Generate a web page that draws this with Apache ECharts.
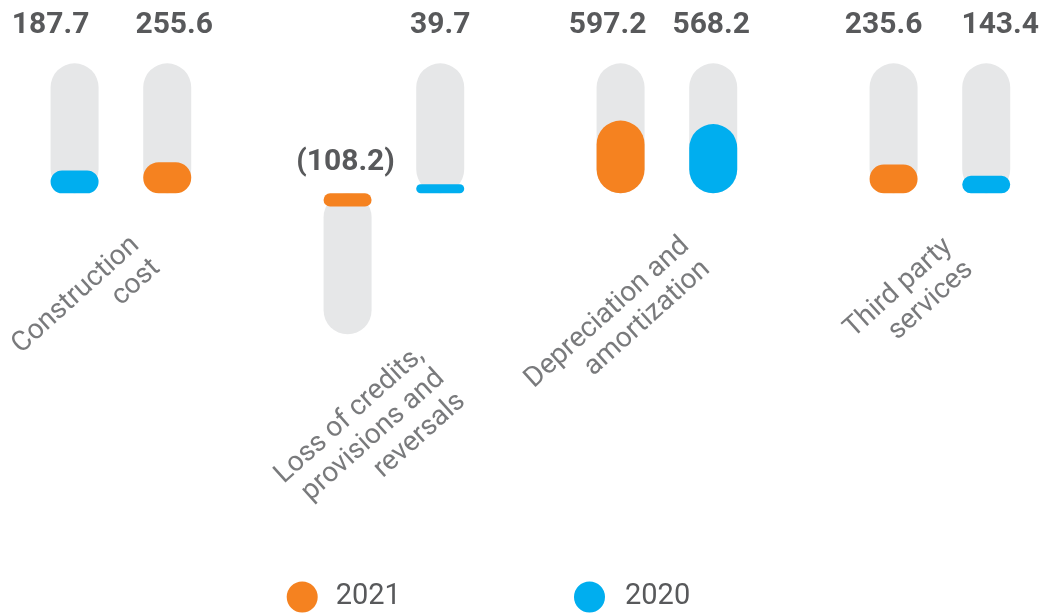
<!DOCTYPE html>
<html>
<head>
<meta charset="utf-8">
<title>Costs by nature</title>
<script src="https://cdn.jsdelivr.net/npm/echarts@6/dist/echarts.min.js"></script>
<style>
  html, body { margin: 0; padding: 0; background: #ffffff; }
  #chart { width: 1042px; height: 614px; }
</style>
</head>
<body>
<div id="chart"></div>
<script>
// ---- data ----
const categories = [
  'Construction\ncost',
  'Loss of credits,\nprovisions and\nreversals',
  'Depreciation and\namortization',
  'Third party\nservices'
];
const years = ['2021', '2020'];
const values2021 = [255.6, -108.2, 597.2, 235.6];
const values2020 = [187.7, 39.7, 568.2, 143.4];
// year shown in the left slot of each group
const leftYear = ['2020', '2021', '2021', '2021'];

// ---- look & layout ----
const ORANGE = '#F58220';
const BLUE = '#00AEEF';
const TRACK = '#E6E7E8';
const INK = '#58595B';
const TRACK_TOP = 1067;      // end of the grey track above zero
const TRACK_BOTTOM = -1158;  // end of the grey track below zero
// horizontal nudges of the value labels [left, right] per group
const valueNudge = [[-24, 7], [-2, 0], [-13, -2], [-10, 14]];
// right-middle anchor of each rotated category name: [x shift px, y in axis units]
const nameAnchor = [[25, -490], [47, -1490], [29, -497], [19, -504]];
const NAME_ROT = 42;

const byYear = { '2021': values2021, '2020': values2020 };
const colorOf = { '2021': ORANGE, '2020': BLUE };
const rightYear = leftYear.map(y => (y === '2021' ? '2020' : '2021'));
const leftVals = categories.map((_, i) => byYear[leftYear[i]][i]);
const rightVals = categories.map((_, i) => byYear[rightYear[i]][i]);

const fmt = v => (v < 0 ? '(' + Math.abs(v).toFixed(1) + ')' : v.toFixed(1));

const BAR_W = 48;
const BAR_GAP = '93%';

// value bars: one stack per slot so a group may swap its year order
function valueSeries(year, slot) {
  const slotYears = slot === 'left' ? leftYear : rightYear;
  return {
    type: 'bar',
    name: year,
    xAxisIndex: 0,
    yAxisIndex: 0,
    stack: slot,
    barWidth: BAR_W,
    barGap: BAR_GAP,
    barMinHeight: 9,
    clip: false,
    z: 3,
    silent: true,
    itemStyle: { color: colorOf[year], borderRadius: BAR_W / 2 },
    data: categories.map((_, i) => (slotYears[i] === year ? byYear[year][i] : '-'))
  };
}

// grey tracks behind the bars, carrying the value labels
function trackSeries(slot) {
  const vals = slot === 'left' ? leftVals : rightVals;
  const k = slot === 'left' ? 0 : 1;
  return {
    type: 'bar',
    name: 'track-' + slot,
    xAxisIndex: 1,
    yAxisIndex: 0,
    barWidth: BAR_W,
    barGap: BAR_GAP,
    clip: false,
    z: 1,
    silent: true,
    itemStyle: { color: TRACK, borderRadius: BAR_W / 2 },
    label: {
      show: true,
      position: 'top',
      color: INK,
      fontFamily: 'Roboto',
      fontWeight: 'bold',
      fontSize: 30,
      formatter: p => fmt(vals[p.dataIndex])
    },
    data: vals.map((v, i) => ({
      value: v >= 0 ? TRACK_TOP : TRACK_BOTTOM,
      label: { distance: v >= 0 ? 23 : 16, offset: [valueNudge[i][k], 0] }
    }))
  };
}

const xAxisBase = {
  type: 'category',
  data: categories,
  boundaryGap: false,
  show: false
};

// one legend per year so each sits at its own place
function legendFor(year, left, gap) {
  return {
    data: [year],
    left: left,
    top: 581.5,
    padding: 0,
    icon: 'circle',
    itemWidth: 31,
    itemHeight: 31,
    selectedMode: false,
    textStyle: { color: INK, fontSize: 29, fontFamily: 'Roboto', padding: [0, 0, 0, gap] }
  };
}

// label offsets are applied in the rotated frame; convert a screen shift
const rad = NAME_ROT * Math.PI / 180;

const option = {
  animation: false,
  backgroundColor: '#ffffff',
  grid: { left: 120.9, right: 102.1, top: 59.3, bottom: 225.8 },
  xAxis: [Object.assign({}, xAxisBase), Object.assign({}, xAxisBase)],
  yAxis: { type: 'value', min: -1600, max: 1100, show: false },
  legend: [legendFor('2021', 286.7, 13), legendFor('2020', 574, 15)],
  series: [
    trackSeries('left'),
    trackSeries('right'),
    valueSeries('2021', 'left'),
    valueSeries('2020', 'left'),
    valueSeries('2020', 'right'),
    valueSeries('2021', 'right'),
    {
      type: 'scatter',
      name: 'names',
      xAxisIndex: 0,
      yAxisIndex: 0,
      clip: false,
      silent: true,
      symbolSize: 1,
      itemStyle: { color: 'rgba(0,0,0,0)' },
      label: {
        show: true,
        position: 'inside',
        rotate: NAME_ROT,
        align: 'right',
        verticalAlign: 'middle',
        color: INK,
        fontFamily: 'Roboto',
        fontSize: 28,
        lineHeight: 31,
        formatter: p => categories[p.dataIndex]
      },
      data: categories.map((_, i) => ({
        value: [i, nameAnchor[i][1]],
        label: { offset: [nameAnchor[i][0] * Math.cos(rad), nameAnchor[i][0] * Math.sin(rad)] }
      }))
    }
  ]
};

const chart = echarts.init(document.getElementById('chart'), null, { renderer: 'canvas' });
chart.setOption(option);
</script>
</body>
</html>
